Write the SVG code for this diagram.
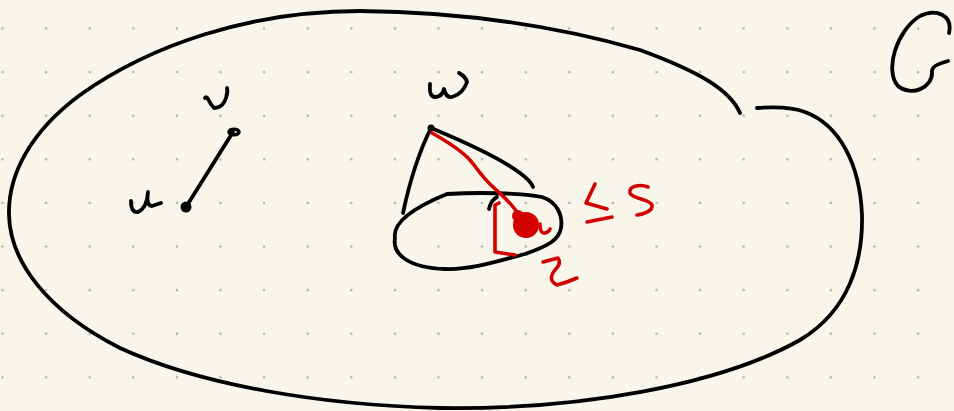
<svg xmlns="http://www.w3.org/2000/svg" width="954" height="411" viewBox="0 0 954 411">
<defs>
<pattern id="dots" x="-19.3" y="6.7" width="43.6" height="43.6" patternUnits="userSpaceOnUse">
<circle cx="21.8" cy="21.8" r="1.3" fill="#b3b1a8"/>
</pattern>
<style>
.k{fill:none;stroke:#000;stroke-width:3.8;stroke-linecap:round;stroke-linejoin:round}
.r{fill:none;stroke:#d30000;stroke-width:3.6;stroke-linecap:round;stroke-linejoin:round}
</style>
</defs>
<rect width="954" height="411" fill="#f8f6eb"/>
<rect width="954" height="411" fill="url(#dots)"/>
<g id="graph-G">
<path class="k" d="M 740 113 C 730 90, 700 72, 640 50 C 570 30, 480 12, 360 11 C 250 11, 150 45, 80 95 C 30 132, 8 175, 9 215 C 10 260, 45 310, 120 348 C 200 385, 320 405, 440 408 C 580 410, 720 385, 800 340 C 850 310, 863 260, 862 215 C 860 165, 840 125, 805 112 C 790 106, 770 107, 757 108"/>
<path class="k" d="M 949 33 C 953 15, 936 8, 920 16 C 897 30, 884 70, 898 86 C 911 97, 933 88, 932 72 C 931 66, 940 63, 948 61"/>
</g>
<g id="edges">
<path class="k" d="M 186 207 L 233 132"/>
<path class="k" d="M 431 128 C 420 150, 410 180, 403 213"/>
<path class="k" d="M 431 128 C 460 140, 500 158, 520 173 C 528 179, 532 184, 533 187"/>
</g>
<g id="node-u">
<circle cx="186" cy="207" r="5.5" fill="#000"/>
<path class="k" d="M 131 201 Q 131 213 138 212 Q 147 208 148 192 Q 146 206 152 206 L 161 203"/>
</g>
<g id="node-v">
<ellipse cx="234" cy="132" rx="5" ry="2.8" fill="none" stroke="#000" stroke-width="3.5"/>
<path class="k" d="M 205 98 Q 206 96 208 99 Q 211 105 214 108 Q 223 108 226 98 Q 228 92 227 88"/>
</g>
<g id="node-w">
<circle cx="431" cy="128" r="3.5" fill="#000"/>
<path class="k" d="M 430 84 Q 429 97 435 97 Q 442 97 444 89 Q 446 98 452 97 Q 463 94 467 82 Q 466 77 459 73"/>
</g>
<g id="set-Z">
<path class="k" d="M 395 238 C 392 220, 420 205, 447 194 C 480 192, 520 193, 542 197 C 557 202, 563 215, 561 228 C 559 240, 548 246, 525 254 C 495 262, 470 270, 445 269 C 410 268, 392 255, 395 238 Z"/>
<path class="k" d="M 489 209 Q 491 200 497 197"/>
</g>
<g id="path-red">
<path class="r" d="M 432 133 C 448 142, 460 150, 468 158 C 476 166, 480 175, 492 186 C 500 194, 508 200, 514 208 C 518 213, 519 216, 518 218"/>
<path class="r" d="M 499 203 L 495 205 L 495 252 L 515 255"/>
<ellipse cx="526" cy="225" rx="13" ry="13" fill="#d30000"/>
<circle cx="518" cy="216" r="6" fill="#d30000"/>
<path class="r" d="M 540 224 Q 540 234 545 233 Q 549 232 550 229"/>
<path class="r" d="M 543 262 L 558 258 Q 562 263 555 270 Q 547 280 557 285 Q 568 282 577 278"/>
<path class="r" d="M 595 184 L 586 203 L 607 209 M 587 222 L 612 217"/>
<path class="r" d="M 648 187 C 640 184, 628 186, 630 193 C 632 199, 650 199, 652 205 C 653 211, 644 214, 637 215"/>
</g>
</svg>
